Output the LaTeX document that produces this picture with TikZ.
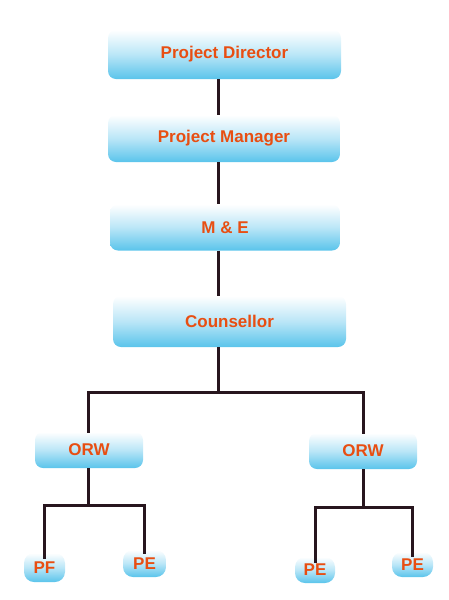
\documentclass[tikz,border=0pt]{standalone}
\usepackage{fontspec}
\setmainfont{Liberation Sans}
\definecolor{boxblue}{RGB}{90,196,235}
\definecolor{boxmid}{RGB}{186,230,247}
\definecolor{labelred}{RGB}{232,78,18}
\definecolor{linedark}{RGB}{40,22,30}
\tikzset{
  post/.style={rounded corners=8pt, top color=white, bottom color=boxblue,
    middle color=boxmid, text=labelred, inner sep=0pt,
    font=\bfseries\fontsize{17}{17}\selectfont},
  worker/.style={post, rounded corners=10pt},
  link/.style={draw=linedark, line width=3pt}
}
\begin{document}
\begin{tikzpicture}[x=1pt, y=-1pt]
   \useasboundingbox (0,0) rectangle (449,600);
   % top chain
   \node[post, minimum width=233pt, minimum height=49pt] (pd) at (224.5,54.5) {Project Director};
   \node[post, minimum width=232pt, minimum height=47pt] (pm) at (224,138.5) {Project Manager};
   \node[post, minimum width=230pt, minimum height=46pt] (me) at (225,227.5) {M \& E};
   \node[post, minimum width=233pt, minimum height=51pt] (cs) at (229.5,321.5) {Counsellor};
   % outreach workers
   \node[post, minimum width=108pt, minimum height=36pt] (orwl) at (89,450) {ORW};
   \node[post, minimum width=108pt, minimum height=36pt] (orwr) at (363,451) {ORW};
   % leaves
   \node[worker, minimum width=41pt, minimum height=29pt] (pf) at (44.5,567.5) {PF};
   \node[worker, minimum width=43pt, minimum height=27pt] (pea) at (144.5,563.5) {PE};
   \node[worker, minimum width=40pt, minimum height=26pt] (peb) at (315,570) {PE};
   \node[worker, minimum width=41pt, minimum height=25pt] (pec) at (412.5,564.5) {PE};
   \coordinate (spine) at (218,0);
   \coordinate (forkm) at (218,392);
   \coordinate (forkl) at (88,505);
   \coordinate (forkr) at (363,507);
   \draw[link] (pd.south -| spine) -- (pm.north -| spine);
   \draw[link] (pm.south -| spine) -- (me.north -| spine);
   \draw[link] (me.south -| spine) -- (cs.north -| spine);
   \draw[link] (cs.south -| spine) -- (forkm);
   \draw[link] ([yshift=-1pt]orwl.north -| forkl) |- (forkm) -| ([yshift=-1pt]orwr.north);
   \draw[link] (orwl.south -| forkl) -- (forkl);
   \draw[link] ([yshift=-6pt]pf.north) |- (forkl) -| ([yshift=-4pt]pea.north);
   \draw[link] (orwr.south) -- (forkr);
   \draw[link] ([yshift=-6pt]peb.north) |- (forkr) -| ([yshift=-5pt]pec.north);
\end{tikzpicture}
\end{document}
